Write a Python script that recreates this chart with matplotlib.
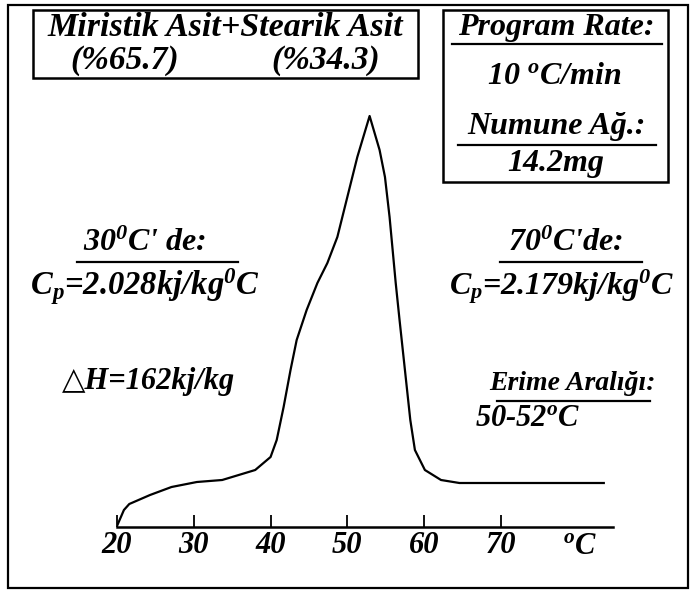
import numpy as np
import matplotlib
matplotlib.use("Agg")
import matplotlib.pyplot as plt
from matplotlib.lines import Line2D
from matplotlib.patches import Rectangle

plt.rcParams['font.family'] = ['Liberation Serif', 'DejaVu Serif']
plt.rcParams['font.weight'] = 'bold'
plt.rcParams['font.style'] = 'italic'
plt.rcParams['mathtext.fontset'] = 'custom'
plt.rcParams['mathtext.rm'] = 'Liberation Serif:bold:italic'
plt.rcParams['mathtext.it'] = 'Liberation Serif:bold:italic'
plt.rcParams['mathtext.bf'] = 'Liberation Serif:bold:italic'

# DSC curve (temperature in C, heat flow in arbitrary units)
temp = [20.0, 20.9, 21.6, 24.3, 27.1, 30.4, 33.7, 38.0, 40.0, 40.8, 41.7,
        42.6, 43.4, 44.7, 46.1, 47.4, 48.7, 50.0, 51.3, 52.9, 54.2, 54.9,
        55.5, 55.9, 56.3, 56.8, 57.5, 58.2, 58.8, 60.1, 62.2, 64.6, 69.8, 83.4]
heat = [0.1, 1.7, 2.3, 3.2, 4.0, 4.5, 4.7, 5.7, 7.0, 8.7, 12.0,
        15.7, 18.7, 21.7, 24.4, 26.4, 29.0, 33.0, 37.0, 41.1, 37.7, 35.0,
        31.0, 27.7, 24.4, 20.7, 15.7, 10.7, 7.7, 5.7, 4.7, 4.4, 4.4, 4.4]
xticks = [20, 30, 40, 50, 60, 70]

W, H = 691, 592
fig = plt.figure(figsize=(W / 100, H / 100), dpi=100)

def fx(px):
    return px / W

def fy(py):
    return 1 - py / H

# axes: x line from px 117 to 613 at py 527
ax = fig.add_axes([fx(117), fy(527), fx(613) - fx(117), fy(77) - fy(527)])
ax.plot(temp, heat, color='black', lw=1.6)
ax.set_xlim(20, 84.6)
ax.set_ylim(0, 45)
for s in ['top', 'right', 'left']:
    ax.spines[s].set_visible(False)
ax.spines['bottom'].set_linewidth(1.8)
ax.set_yticks([])
ax.set_xticks(xticks)
ax.set_xticklabels([str(t) for t in xticks])
ax.tick_params(axis='x', direction='in', length=9, width=1.3, pad=3, labelsize=22)
ax.text(80.3, -0.5, r'$^{o}$C', ha='center', va='top', fontsize=22)
ax.patch.set_alpha(0)

# outer frame
fig.add_artist(Rectangle((fx(8), fy(588)), fx(688) - fx(8), fy(5) - fy(588),
                         transform=fig.transFigure, fill=False, lw=1.6, color='black'))
# title box
fig.add_artist(Rectangle((fx(33), fy(78)), fx(418) - fx(33), fy(10) - fy(78),
                         transform=fig.transFigure, fill=False, lw=1.8, color='black'))
# info box
fig.add_artist(Rectangle((fx(443), fy(182)), fx(668) - fx(443), fy(10) - fy(182),
                         transform=fig.transFigure, fill=False, lw=1.8, color='black'))

def txt(px, py, s, size=23, ha='center', **kw):
    fig.text(fx(px), fy(py), s, ha=ha, va='center', fontsize=size, **kw)

def uline(x0, x1, py):
    fig.add_artist(Line2D([fx(x0), fx(x1)], [fy(py), fy(py)],
                          transform=fig.transFigure, color='black', lw=1.6))

txt(225, 27, 'Miristik Asit+Stearik Asit', 24.5)
txt(125, 60, '(%65.7)', 24)
txt(326, 60, '(%34.3)', 24)

txt(556, 28, 'Program Rate:', 23)
uline(452, 662, 44)
txt(554, 76, r'10 $^{o}$C/min', 23)
txt(556, 127, 'Numune Ağ.:', 23)
uline(458, 656, 145)
txt(556, 163, '14.2mg', 23)

txt(145, 243, r"30$^{0}$C' de:", 23)
uline(77, 238, 262)
txt(145, 287, r'C$_{p}$=2.028kj/kg$^{0}$C', 23.5)
txt(148, 382, '△H=162kj/kg', 22, family=['Liberation Serif', 'DejaVu Sans'])

txt(566, 243, r"70$^{0}$C'de:", 23)
uline(500, 642, 262)
txt(562, 287, r'C$_{p}$=2.179kj/kg$^{0}$C', 23)
txt(572, 383, 'Erime Aralığı:', 20)
uline(497, 650, 401)
txt(528, 418, r'50-52$^{o}$C', 22)

fig.savefig('out.png', dpi=100)
